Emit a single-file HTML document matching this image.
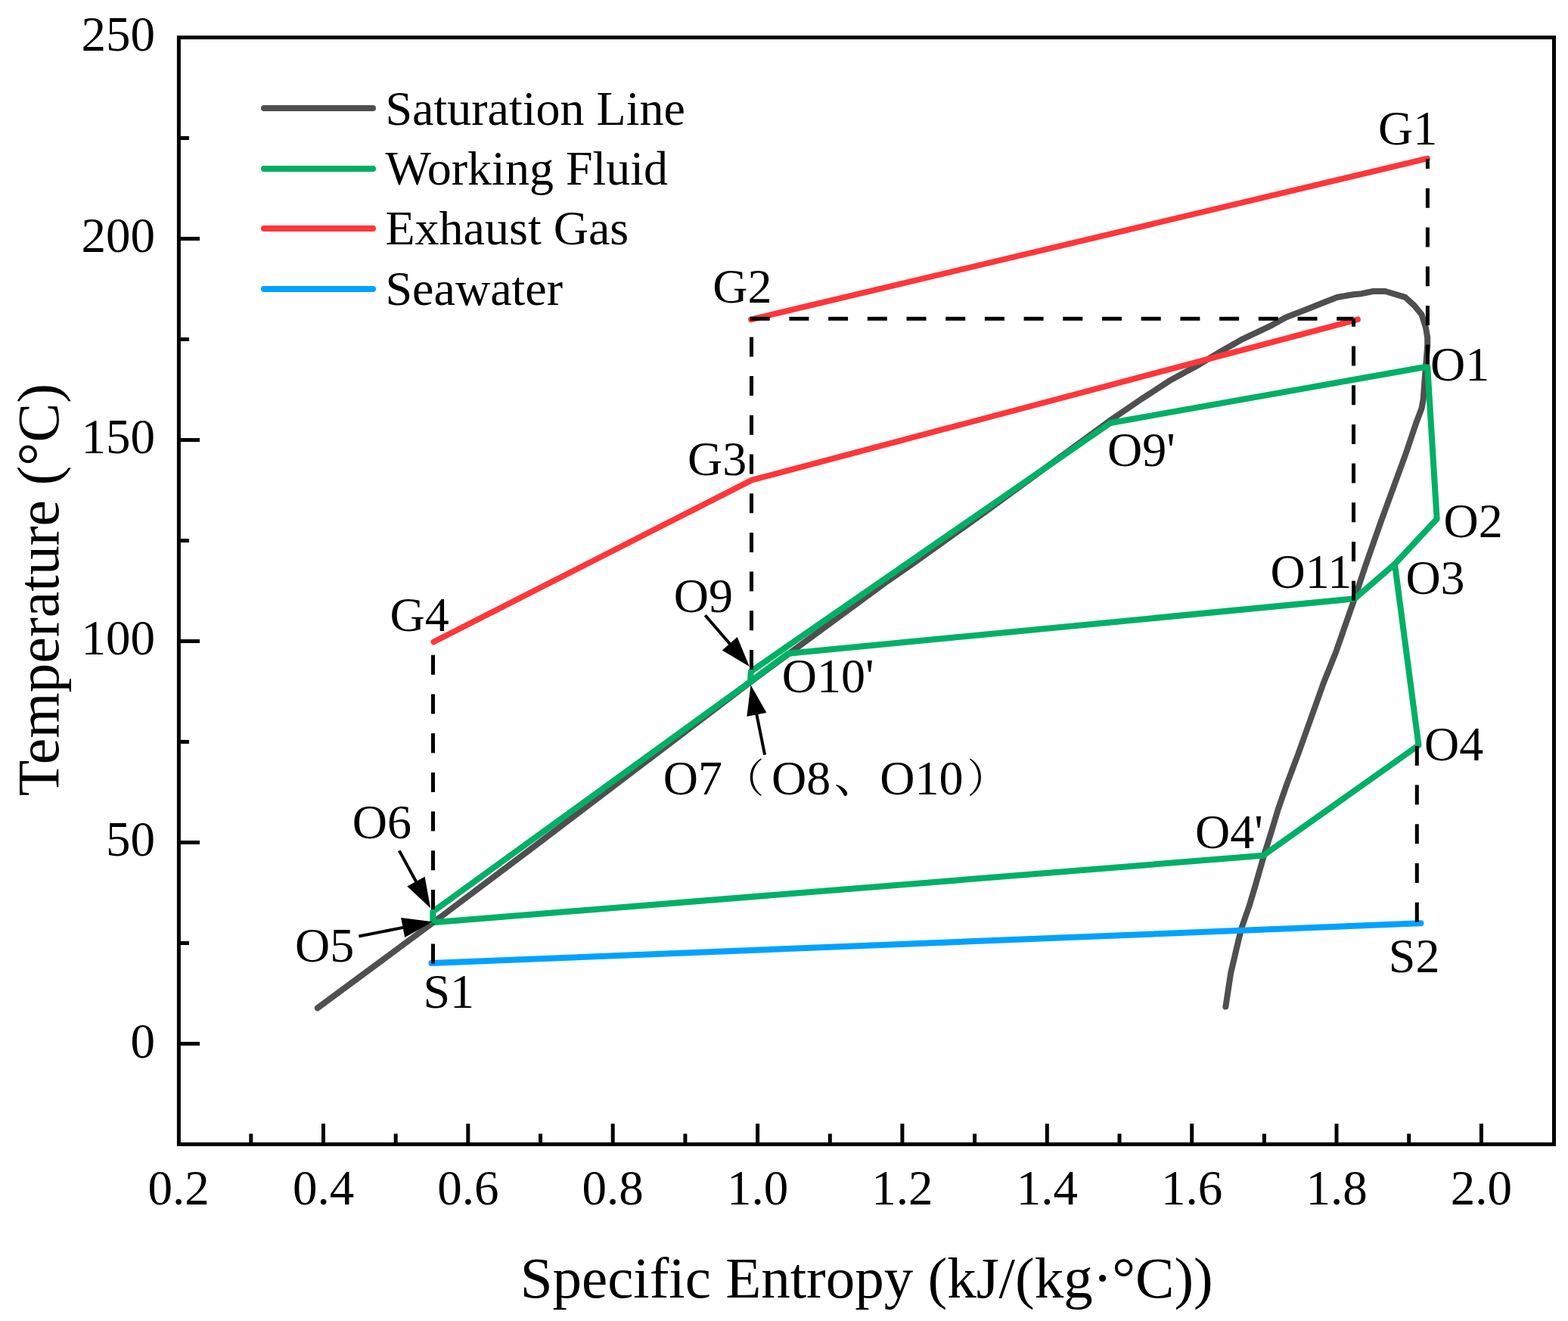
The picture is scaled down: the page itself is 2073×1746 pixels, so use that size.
<!DOCTYPE html>
<html><head><meta charset="utf-8"><title>T-s diagram</title>
<style>html,body{margin:0;padding:0;background:#fff;}svg{display:block;}</style></head>
<body>
<svg width="2073" height="1746" viewBox="0 0 2073 1746">
<rect width="2073" height="1746" fill="#fff"/>
<g fill="none" stroke-width="8" stroke-linejoin="round" stroke-linecap="round">
<polyline points="419.9,1332.3 572.6,1219.4 700.0,1123.5 860.0,1002.0 992.0,901.5 1100.0,822.0 1170.0,770.5 1210.0,742.8 1300.6,678.0 1471.2,553.3 1507.9,528.2 1546.5,503.1 1585.1,481.9 1614.0,464.5 1643.0,448.1 1681.5,429.8 1700.0,419.5 1727.2,409.0 1752.2,399.0 1767.5,393.0 1789.2,389.2 1800.0,388.2 1815.5,385.0 1831.5,385.0 1841.5,388.0 1857.8,392.9 1869.7,403.7 1879.5,415.7 1885.0,433.1 1887.2,446.2 1887.2,457.0 1885.0,484.3 1882.8,511.5 1881.7,527.8 1879.5,539.7 1871.9,560.0 1858.6,599.5 1843.0,642.2 1825.9,688.9 1805.0,748.4 1790.2,793.0 1766.3,861.5 1749.7,903.0 1733.1,949.5 1716.5,996.0 1701.5,1035.9 1689.9,1069.1 1679.9,1102.3 1671.6,1128.6 1660.2,1168.7 1651.6,1197.3 1641.6,1226.0 1637.3,1243.1 1627.2,1286.0 1620.4,1330.5" stroke="#4f4f4f"/>
<polyline points="573.4,848.4 994.0,634.5 1795.0,422.3" stroke="#ff3639" stroke-width="7.7"/>
<polyline points="993.0,422.3 1887.0,209.5" stroke="#ff3639" stroke-width="7.7"/>
<polyline points="570.5,1273.0 1878.5,1220.3" stroke="#00a2ff"/>
<polyline points="1670.0,1130.8 572.3,1219.3 572.3,1205.0 992.0,901.0 992.7,887.5 1468.0,559.0 1887.2,484.5 1899.6,686.0 1844.0,745.5 1875.5,985.0 1670.0,1130.8" stroke="#00b065"/>
<polyline points="992.0,901.0 1042.0,863.7 1791.0,791.3 1844.0,745.5" stroke="#00b065"/>
</g>
<g stroke="#000" stroke-width="5" fill="none" stroke-dasharray="26 25.7">
<line x1="572.5" y1="1273.5" x2="572.5" y2="1221"/>
<line x1="572.5" y1="1202" x2="572.5" y2="848"/>
<line x1="993.5" y1="885" x2="993.5" y2="421.5"/>
<line x1="991.7" y1="421.2" x2="1789.5" y2="421.2"/>
<line x1="1789.5" y1="793.7" x2="1789.5" y2="421.2"/>
<line x1="1887.4" y1="481.6" x2="1887.4" y2="210.3"/>
<line x1="1873.3" y1="1218.7" x2="1873.3" y2="985"/>
</g>
<line x1="932.3" y1="813.2" x2="966.0" y2="852.3" stroke="#000" stroke-width="4"/><polygon points="990.8,881.1 954.7,859.4 974.7,842.1" fill="#000"/>
<line x1="1011.1" y1="997.6" x2="1000.0" y2="942.6" stroke="#000" stroke-width="4"/><polygon points="992.5,905.3 1013.4,941.9 987.4,947.1" fill="#000"/>
<line x1="527.8" y1="1124.4" x2="550.9" y2="1166.8" stroke="#000" stroke-width="4"/><polygon points="569.1,1200.2 538.3,1171.4 561.6,1158.7" fill="#000"/>
<line x1="474.4" y1="1237.5" x2="534.6" y2="1225.6" stroke="#000" stroke-width="4"/><polygon points="571.9,1218.3 535.2,1239.0 530.1,1213.0" fill="#000"/>
<g stroke="#000" stroke-width="5" fill="none">
<rect x="236.4" y="49.5" width="1818.1" height="1462.9" stroke-linejoin="miter"/>
<line x1="236.4" y1="1379.5" x2="264.0" y2="1379.5"/>
<line x1="236.4" y1="1246.5" x2="250.0" y2="1246.5"/>
<line x1="236.4" y1="1113.5" x2="264.0" y2="1113.5"/>
<line x1="236.4" y1="980.5" x2="250.0" y2="980.5"/>
<line x1="236.4" y1="847.5" x2="264.0" y2="847.5"/>
<line x1="236.4" y1="714.5" x2="250.0" y2="714.5"/>
<line x1="236.4" y1="581.5" x2="264.0" y2="581.5"/>
<line x1="236.4" y1="448.5" x2="250.0" y2="448.5"/>
<line x1="236.4" y1="315.5" x2="264.0" y2="315.5"/>
<line x1="236.4" y1="182.5" x2="250.0" y2="182.5"/>
<line x1="331.8" y1="1512.4" x2="331.8" y2="1498.5"/>
<line x1="427.5" y1="1512.4" x2="427.5" y2="1485.2"/>
<line x1="523.2" y1="1512.4" x2="523.2" y2="1498.5"/>
<line x1="618.8" y1="1512.4" x2="618.8" y2="1485.2"/>
<line x1="714.5" y1="1512.4" x2="714.5" y2="1498.5"/>
<line x1="810.2" y1="1512.4" x2="810.2" y2="1485.2"/>
<line x1="905.9" y1="1512.4" x2="905.9" y2="1498.5"/>
<line x1="1001.6" y1="1512.4" x2="1001.6" y2="1485.2"/>
<line x1="1097.3" y1="1512.4" x2="1097.3" y2="1498.5"/>
<line x1="1192.9" y1="1512.4" x2="1192.9" y2="1485.2"/>
<line x1="1288.6" y1="1512.4" x2="1288.6" y2="1498.5"/>
<line x1="1384.3" y1="1512.4" x2="1384.3" y2="1485.2"/>
<line x1="1480.0" y1="1512.4" x2="1480.0" y2="1498.5"/>
<line x1="1575.7" y1="1512.4" x2="1575.7" y2="1485.2"/>
<line x1="1671.4" y1="1512.4" x2="1671.4" y2="1498.5"/>
<line x1="1767.0" y1="1512.4" x2="1767.0" y2="1485.2"/>
<line x1="1862.7" y1="1512.4" x2="1862.7" y2="1498.5"/>
<line x1="1958.4" y1="1512.4" x2="1958.4" y2="1485.2"/>
</g>
<g font-family="'Liberation Serif',serif" font-size="65" fill="#000">
<text x="205" y="1398.0" text-anchor="end">0</text>
<text x="205" y="1131.0" text-anchor="end">50</text>
<text x="205" y="865.0" text-anchor="end">100</text>
<text x="205" y="599.0" text-anchor="end">150</text>
<text x="205" y="333.0" text-anchor="end">200</text>
<text x="205" y="67.0" text-anchor="end">250</text>
<text x="236.1" y="1592" text-anchor="middle">0.2</text>
<text x="427.5" y="1592" text-anchor="middle">0.4</text>
<text x="618.8" y="1592" text-anchor="middle">0.6</text>
<text x="810.2" y="1592" text-anchor="middle">0.8</text>
<text x="1001.6" y="1592" text-anchor="middle">1.0</text>
<text x="1192.9" y="1592" text-anchor="middle">1.2</text>
<text x="1384.3" y="1592" text-anchor="middle">1.4</text>
<text x="1575.7" y="1592" text-anchor="middle">1.6</text>
<text x="1767.0" y="1592" text-anchor="middle">1.8</text>
<text x="1958.4" y="1592" text-anchor="middle">2.0</text>
</g>
<text x="1145.7" y="1715" font-family="'Liberation Serif',serif" font-size="77" text-anchor="middle">Specific Entropy (kJ/(kg·°C))</text>
<text transform="translate(77,779.6) rotate(-90)" font-family="'Liberation Serif',serif" font-size="77.7" text-anchor="middle">Temperature (°C)</text>
<line x1="349" y1="143" x2="493" y2="143" stroke="#4f4f4f" stroke-width="8" stroke-linecap="round"/>
<text x="509.5" y="164.7" font-family="'Liberation Serif',serif" font-size="64">Saturation Line</text>
<line x1="349" y1="223" x2="493" y2="223" stroke="#00b065" stroke-width="8" stroke-linecap="round"/>
<text x="509.5" y="243.7" font-family="'Liberation Serif',serif" font-size="64">Working Fluid</text>
<line x1="349" y1="302" x2="493" y2="302" stroke="#ff3639" stroke-width="8" stroke-linecap="round"/>
<text x="509.5" y="323.4" font-family="'Liberation Serif',serif" font-size="64">Exhaust Gas</text>
<line x1="349" y1="382" x2="493" y2="382" stroke="#00a2ff" stroke-width="8" stroke-linecap="round"/>
<text x="509.5" y="403" font-family="'Liberation Serif',serif" font-size="64">Seawater</text>
<g font-family="'Liberation Serif',serif" font-size="64" fill="#000">
<text x="1822.0" y="191">G1</text>
<text x="942.3" y="400.3">G2</text>
<text x="909.0" y="628.2">G3</text>
<text x="515.6" y="834.2">G4</text>
<text x="1891.0" y="503.3">O1</text>
<text x="1908.6" y="710">O2</text>
<text x="1858.4" y="785">O3</text>
<text x="1883.0" y="1004.7">O4</text>
<text x="1580.0" y="1121.2">O4'</text>
<text x="390.0" y="1270.9">O5</text>
<text x="465.8" y="1108.2">O6</text>
<text x="890.7" y="808.7">O9</text>
<text x="1464.0" y="616.4">O9'</text>
<text x="1033.8" y="915.2">O10'</text>
<text x="1679.5" y="776.7">O11</text>
<text x="559.5" y="1332.3">S1</text>
<text x="1835.8" y="1284.6">S2</text>
</g>
<text y="1050.3" font-family="'Liberation Serif',serif" font-size="64"><tspan x="876.8">O7</tspan><tspan x="957.3" y="1047.5" font-family="'Liberation Serif','Noto Serif CJK SC','Noto Sans CJK SC',serif" font-size="53">（</tspan><tspan x="1020" y="1050.3">O8</tspan><tspan x="1102.7" y="1047" font-family="'Liberation Serif','Noto Serif CJK SC','Noto Sans CJK SC',serif" font-size="60">、</tspan><tspan x="1163.3" y="1050.3">O10</tspan><tspan x="1278.4" y="1047.5" font-family="'Liberation Serif','Noto Serif CJK SC','Noto Sans CJK SC',serif" font-size="53">）</tspan></text>
</svg>
</body></html>
